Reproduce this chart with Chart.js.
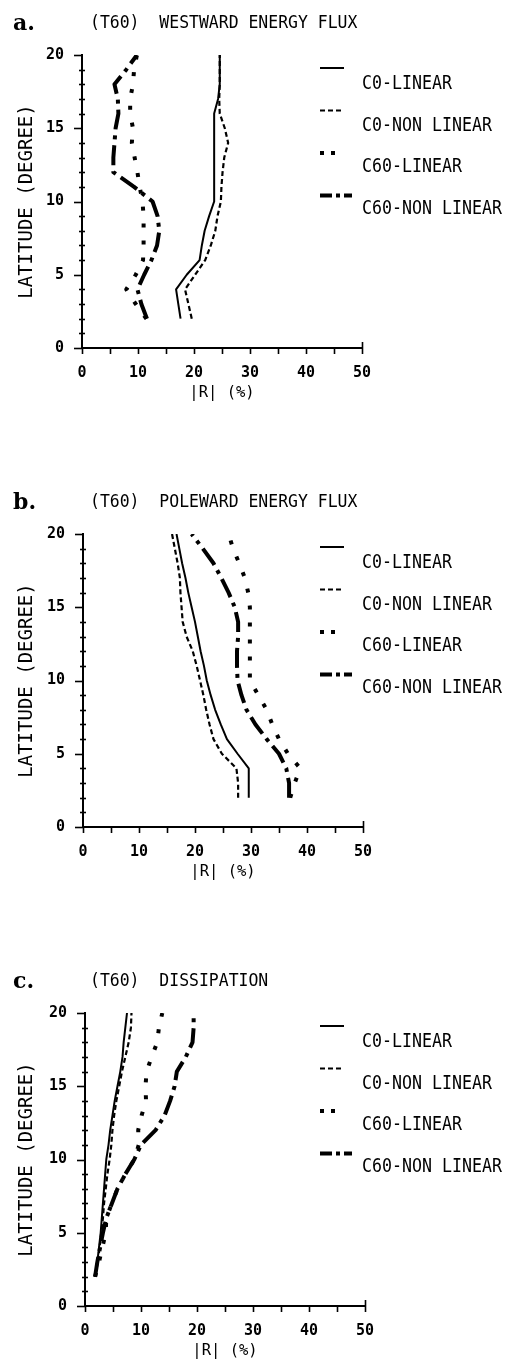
<!DOCTYPE html>
<html>
<head>
<meta charset="utf-8">
<script src="https://cdn.jsdelivr.net/npm/chart.js@4.4.1/dist/chart.umd.min.js"></script>
<style>
  html, body { margin: 0; padding: 0; background: #fff; }
  body { width: 509px; height: 1366px; position: relative; overflow: hidden; }
  .panel { position: absolute; left: 0; width: 509px; height: 408px; }
  .panel canvas { position: absolute; left: 0; top: 0; }
  .tag { position: absolute; left: 13px; top: 9px; font: bold 22px "DejaVu Serif", serif; line-height: 26px; color: #000; }
  .head { position: absolute; left: 90px; top: 12px; font: 17.5px "DejaVu Sans Mono", monospace; line-height: 20px; white-space: pre; color: #000;
          transform: scaleX(0.94); transform-origin: left center; }
</style>
</head>
<body>
<div class="panel" style="top:0px"><canvas id="chartA" width="509" height="408"></canvas><div class="tag">a.</div><div class="head">(T60)  WESTWARD ENERGY FLUX</div></div>
<div class="panel" style="top:479px"><canvas id="chartB" width="509" height="408"></canvas><div class="tag">b.</div><div class="head">(T60)  POLEWARD ENERGY FLUX</div></div>
<div class="panel" style="top:958px"><canvas id="chartC" width="509" height="408"></canvas><div class="tag">c.</div><div class="head">(T60)  DISSIPATION</div></div>
<script>
// Latitude of each sample (degrees)
const latitudes = [2, 3, 4, 5, 6, 7, 8, 9, 10, 11, 12, 13, 14, 15, 16, 17, 18, 19, 20];
const seriesNames = ['C0-LINEAR', 'C0-NON LINEAR', 'C60-LINEAR', 'C60-NON LINEAR'];
const xTickValues = [0, 10, 20, 30, 40, 50];
const yTickValues = [0, 5, 10, 15, 20];

// |R| (%) per latitude — westward energy flux
const westC0Linear     = [17.6, 17.2, 16.8, 18.7, 21.0, 21.4, 21.9, 22.7, 23.6, 23.6, 23.6, 23.6, 23.6, 23.6, 23.6, 24.3, 24.6, 24.6, 24.6];
const westC0NonLinear  = [19.6, 19.0, 18.4, 20.2, 22.0, 23.0, 23.8, 24.2, 24.8, 24.9, 25.1, 25.4, 26.1, 25.5, 24.6, 24.5, 24.6, 24.6, 24.6];
const westC60Linear    = [11.5, 9.6, 7.9, 9.6, 10.9, 11.0, 11.0, 11.0, 10.8, 10.3, 9.9, 9.4, 8.9, 9.1, 8.6, 8.6, 9.1, 9.3, 9.8];
const westC60NonLinear = [11.6, 10.6, 9.9, 11.1, 12.4, 13.4, 13.8, 13.5, 12.6, 9.3, 5.6, 5.6, 5.8, 6.0, 6.5, 6.4, 5.8, 7.9, 9.8];

// |R| (%) per latitude — poleward energy flux
const poleC0Linear     = [29.6, 29.6, 29.6, 27.6, 25.7, 24.6, 23.6, 22.8, 22.1, 21.6, 21.0, 20.5, 20.0, 19.4, 18.8, 18.3, 17.7, 17.2, 16.7];
const poleC0NonLinear  = [27.7, 27.7, 27.4, 24.8, 23.3, 22.6, 22.0, 21.5, 20.9, 20.3, 19.6, 18.5, 17.8, 17.6, 17.4, 17.3, 16.9, 16.4, 15.9];
const poleC60Linear    = [37.0, 37.8, 38.8, 36.6, 35.0, 33.8, 32.8, 31.3, 29.8, 29.8, 29.8, 29.8, 29.8, 29.8, 29.5, 28.9, 27.9, 26.8, 26.0];
const poleC60NonLinear = [36.8, 36.8, 36.3, 35.0, 32.8, 30.8, 29.2, 28.3, 27.6, 27.5, 27.5, 27.7, 27.7, 27.1, 26.0, 24.7, 23.3, 21.4, 19.4];

// |R| (%) per latitude — dissipation
const dissC0Linear     = [1.8, 2.2, 2.5, 2.8, 3.0, 3.2, 3.4, 3.6, 3.8, 4.2, 4.5, 4.9, 5.3, 5.8, 6.3, 6.7, 6.9, 7.2, 7.5];
const dissC0NonLinear  = [1.8, 2.3, 2.6, 2.9, 3.2, 3.4, 3.7, 4.0, 4.4, 4.7, 4.9, 5.2, 5.6, 6.1, 6.6, 7.2, 7.8, 8.2, 8.3];
const dissC60Linear    = [1.8, 2.5, 3.1, 3.7, 3.8, 4.8, 5.8, 7.2, 8.8, 9.6, 9.5, 10.1, 10.9, 10.8, 11.0, 11.9, 12.9, 13.2, 13.8];
const dissC60NonLinear = [1.8, 2.2, 2.7, 3.2, 3.8, 4.8, 5.8, 7.2, 8.8, 10.0, 12.6, 14.2, 15.2, 16.0, 16.4, 18.0, 19.2, 19.4, 19.4];

// Plotter-like line styles, one per series
const lineStyles = [
  { borderWidth: 2,   borderDash: [],            sampleDash: [],            sampleEnd: 344 },
  { borderWidth: 2.2, borderDash: [5, 3],        sampleDash: [5, 3],        sampleEnd: 344 },
  { borderWidth: 4,   borderDash: [4, 13],       sampleDash: [4, 7],        sampleEnd: 336 },
  { borderWidth: 4,   borderDash: [20, 6, 4, 6], sampleDash: [12, 4, 4, 4], sampleEnd: 352 }
];

const MONO = '"DejaVu Sans Mono", monospace';
Chart.defaults.color = '#000';

// Short tick marks on both axes: every degree on the latitude axis, every 5 % on |R|
const axisTicks = {
  id: 'axisTicks',
  afterDraw(chart) {
    const { ctx, chartArea, scales: { x, y } } = chart;
    ctx.save();
    ctx.strokeStyle = '#000';
    ctx.lineWidth = 1.6;
    for (let v = 0; v <= 20; v++) {
      const py = Math.round(y.getPixelForValue(v)) + 0.5;
      ctx.beginPath();
      if (v % 5 === 0) {
        ctx.moveTo(chartArea.left - 8, py); ctx.lineTo(chartArea.left, py);
      } else {
        ctx.moveTo(chartArea.left - 3, py); ctx.lineTo(chartArea.left + 3, py);
      }
      ctx.stroke();
    }
    for (let v = 0; v <= 50; v += 5) {
      const px = Math.round(x.getPixelForValue(v)) + 0.5;
      const yb = chartArea.bottom;
      ctx.beginPath();
      ctx.moveTo(px, v === 50 ? yb - 6 : yb);
      ctx.lineTo(px, yb + 6);
      ctx.stroke();
    }
    ctx.restore();
  }
};

// Legend to the right of the plot: line sample above, name offset below (narrow plotter lettering)
const sideLegend = {
  id: 'sideLegend',
  afterDraw(chart) {
    const { ctx, chartArea } = chart;
    ctx.save();
    chart.data.datasets.forEach((ds, i) => {
      const sy = chartArea.top + 13 + 42.5 * i;
      const ty = chartArea.top + 29 + 41.5 * i;
      ctx.beginPath();
      ctx.lineWidth = ds.borderWidth;
      ctx.setLineDash(ds.sampleDash);
      ctx.lineCap = 'butt';
      ctx.strokeStyle = '#000';
      ctx.moveTo(320, sy);
      ctx.lineTo(ds.sampleEnd, sy);
      ctx.stroke();
      ctx.setLineDash([]);
      ctx.save();
      ctx.translate(362, ty);
      ctx.scale(0.83, 1);
      ctx.fillStyle = '#000';
      ctx.font = '20px ' + MONO;
      ctx.textAlign = 'left';
      ctx.textBaseline = 'middle';
      ctx.fillText(ds.label, 0, 0);
      ctx.restore();
    });
    ctx.restore();
  }
};

function drawPanel(canvasId, series, axisLeft) {
  const plotWidth = 280;
  return new Chart(document.getElementById(canvasId), {
    type: 'scatter',
    data: {
      datasets: series.map((vals, i) => Object.assign({
        label: seriesNames[i],
        data: latitudes.map((lat, k) => ({ x: vals[k], y: lat })),
        showLine: true,
        pointRadius: 0,
        borderColor: '#000',
        backgroundColor: '#000',
        borderCapStyle: 'butt',
        borderJoinStyle: 'round',
        tension: 0
      }, lineStyles[i]))
    },
    options: {
      responsive: false,
      animation: false,
      devicePixelRatio: 1,
      layout: { padding: { top: 55, left: 0, right: 509 - axisLeft - plotWidth, bottom: 4 } },
      plugins: { legend: { display: false }, tooltip: { enabled: false } },
      scales: {
        x: {
          type: 'linear', min: 0, max: 50,
          afterBuildTicks: s => { s.ticks = xTickValues.map(v => ({ value: v })); },
          afterFit: s => { s.height = 56; },
          grid: { display: false, drawTicks: false },
          border: { display: true, color: '#000', width: 2 },
          ticks: { padding: 16, color: '#000', font: { family: MONO, size: 15, weight: 'bold' } },
          title: { display: true, text: '|R| (%)', color: '#000', font: { family: MONO, size: 15.5 }, padding: { top: 0, bottom: 2 } }
        },
        y: {
          type: 'linear', min: 0, max: 20,
          afterBuildTicks: s => { s.ticks = yTickValues.map(v => ({ value: v })); },
          afterFit: s => { s.width = axisLeft; },
          grid: { display: false, drawTicks: false },
          border: { display: true, color: '#000', width: 2 },
          ticks: { padding: 18, color: '#000', font: { family: MONO, size: 15, weight: 'bold' } },
          title: { display: true, text: 'LATITUDE (DEGREE)', color: '#000', font: { family: MONO, size: 19 }, padding: { top: 16, bottom: 0 } }
        }
      }
    },
    plugins: [axisTicks, sideLegend]
  });
}

drawPanel('chartA', [westC0Linear, westC0NonLinear, westC60Linear, westC60NonLinear], 82);
drawPanel('chartB', [poleC0Linear, poleC0NonLinear, poleC60Linear, poleC60NonLinear], 83);
drawPanel('chartC', [dissC0Linear, dissC0NonLinear, dissC60Linear, dissC60NonLinear], 85);
</script>
</body>
</html>
